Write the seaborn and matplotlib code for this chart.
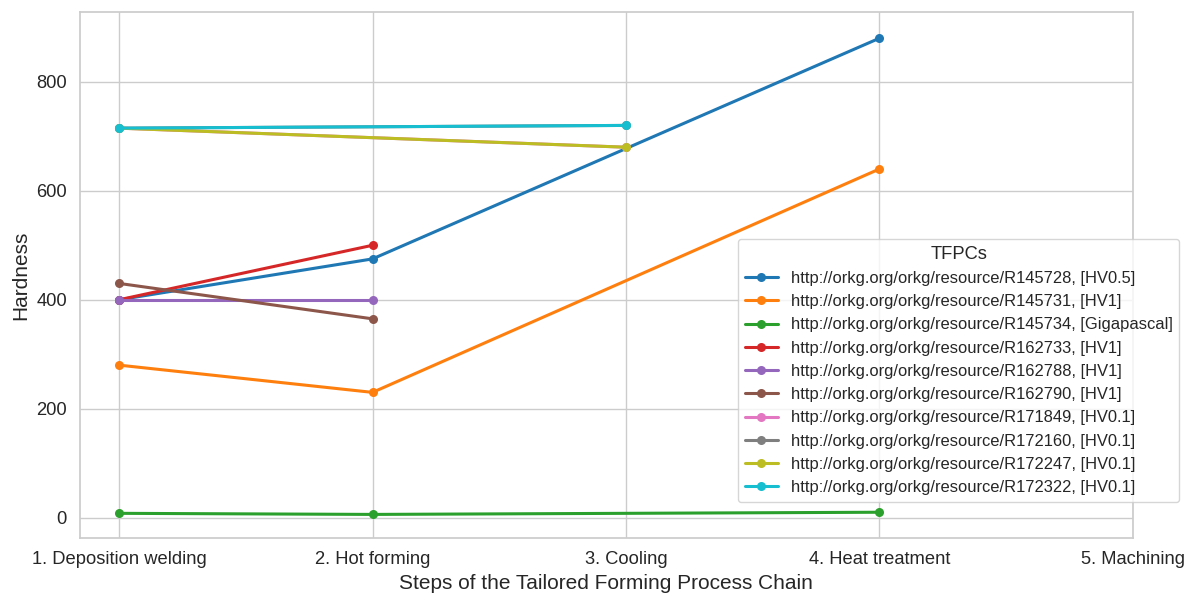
import numpy as np
import pandas as pd
import seaborn as sns
import matplotlib.pyplot as plt

# process chain steps (x axis)
STEPS = ["1. Deposition welding", "2. Hot forming", "3. Cooling",
         "4. Heat treatment", "5. Machining"]

SERIES = [
    "http://orkg.org/orkg/resource/R145728, [HV0.5]",
    "http://orkg.org/orkg/resource/R145731, [HV1]",
    "http://orkg.org/orkg/resource/R145734, [Gigapascal]",
    "http://orkg.org/orkg/resource/R162733, [HV1]",
    "http://orkg.org/orkg/resource/R162788, [HV1]",
    "http://orkg.org/orkg/resource/R162790, [HV1]",
    "http://orkg.org/orkg/resource/R171849, [HV0.1]",
    "http://orkg.org/orkg/resource/R172160, [HV0.1]",
    "http://orkg.org/orkg/resource/R172247, [HV0.1]",
    "http://orkg.org/orkg/resource/R172322, [HV0.1]",
]

nan = np.nan
# hardness per step, NaN = no measurement
R145728 = [400, 475, nan, 880, nan]
R145731 = [280, 230, nan, 640, nan]
R145734 = [8, 6, nan, 10, nan]
R162733 = [400, 500, nan, nan, nan]
R162788 = [400, 400, nan, nan, nan]
R162790 = [430, 365, nan, nan, nan]
R171849 = [715, nan, 680, nan, nan]
R172160 = [715, nan, 720, nan, nan]
R172247 = [715, nan, 680, nan, nan]
R172322 = [715, nan, 720, nan, nan]

VALUES = [R145728, R145731, R145734, R162733, R162788,
          R162790, R171849, R172160, R172247, R172322]

rows = []
for name, vals in zip(SERIES, VALUES):
    for i, v in enumerate(vals):
        if not np.isnan(v):
            rows.append({"step": i, "Hardness": v, "TFPCs": name})
df = pd.DataFrame(rows)

sns.set_theme(style="whitegrid")
plt.rcParams["font.family"] = ["Liberation Sans", "DejaVu Sans"]

fig, ax = plt.subplots(figsize=(12, 6.05), dpi=100)
fig.subplots_adjust(left=0.0667, right=0.944, top=0.980, bottom=0.111)

sns.lineplot(data=df, x="step", y="Hardness", hue="TFPCs", hue_order=SERIES,
             palette="tab10", marker="o", markersize=6.5, markeredgewidth=0,
             linewidth=2.2, ax=ax)

ax.set_xticks(range(len(STEPS)))
ax.set_xticklabels(STEPS)
ax.set_xlim(-0.154, 4.0)
ax.set_ylim(-37, 928)
ax.set_yticks([0, 200, 400, 600, 800])
ax.tick_params(axis="both", labelsize=13.2)
ax.set_xlabel("Steps of the Tailored Forming Process Chain", fontsize=15)
ax.set_ylabel("Hardness", fontsize=15)

ax.legend(title="TFPCs", loc="upper left", bbox_to_anchor=(0.615, 0.605),
          bbox_transform=fig.transFigure, borderaxespad=0,
          fontsize=11.9, title_fontsize=13.2)

plt.savefig("out.png", dpi=100)
